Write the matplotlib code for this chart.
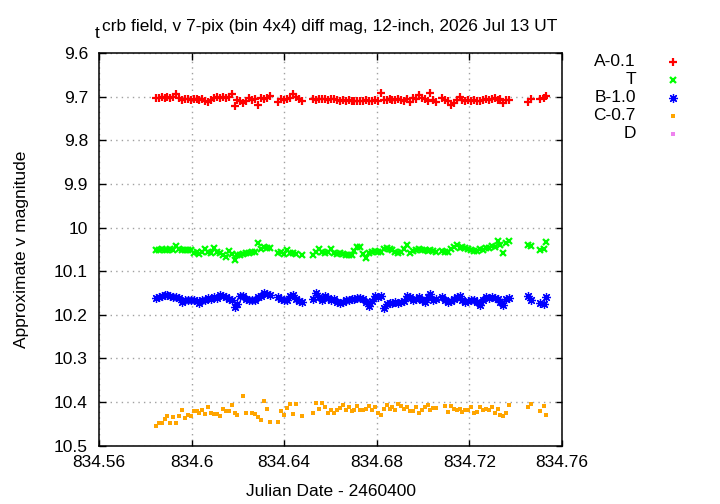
import numpy as np
import matplotlib
matplotlib.use('Agg')
import matplotlib.pyplot as plt
from matplotlib.lines import Line2D
from matplotlib.ticker import FixedLocator, FormatStrFormatter

plt.rcParams['font.family'] = ['Liberation Sans', 'DejaVu Sans']

nan = np.nan

# JD - 2460400
jd = [834.5845, 834.5858, 834.5870, 834.5883, 834.5895, 834.5908, 834.5921, 834.5933,
      834.5946, 834.5959, 834.5971, 834.5984, 834.5996, 834.6009, 834.6022, 834.6034,
      834.6047, 834.6060, 834.6072, 834.6085, 834.6097, 834.6110, 834.6123, 834.6135,
      834.6148, 834.6161, 834.6173, 834.6186, 834.6198, 834.6211, 834.6224, 834.6236,
      834.6249, 834.6261, 834.6274, 834.6287, 834.6299, 834.6312, 834.6325, 834.6337,
      834.6350, 834.6362, 834.6375, 834.6388, 834.6400, 834.6413, 834.6426, 834.6438,
      834.6451, 834.6463, 834.6476, 834.6489, 834.6501, 834.6514, 834.6526, 834.6539,
      834.6552, 834.6564, 834.6577, 834.6590, 834.6602, 834.6615, 834.6627, 834.6640,
      834.6653, 834.6665, 834.6678, 834.6691, 834.6703, 834.6716, 834.6728, 834.6741,
      834.6754, 834.6766, 834.6779, 834.6792, 834.6804, 834.6817, 834.6829, 834.6842,
      834.6855, 834.6867, 834.6880, 834.6892, 834.6905, 834.6918, 834.6930, 834.6943,
      834.6956, 834.6968, 834.6981, 834.6993, 834.7006, 834.7019, 834.7031, 834.7044,
      834.7057, 834.7069, 834.7082, 834.7094, 834.7107, 834.7120, 834.7132, 834.7145,
      834.7158, 834.7170, 834.7183, 834.7195, 834.7208, 834.7221, 834.7233, 834.7246,
      834.7258, 834.7271, 834.7284, 834.7296, 834.7309, 834.7322, 834.7334, 834.7347,
      834.7359, 834.7372,
      834.7455, 834.7467, 834.7506, 834.7520, 834.7532]

# A-0.1
mag_a = [9.702, 9.703, 9.701, 9.703, 9.700, 9.704, 9.701, 9.693,
         9.704, 9.708, 9.706, 9.705, 9.707, 9.706, 9.705, 9.707,
         9.706, 9.711, 9.712, 9.707, 9.703, 9.700, 9.702, 9.700,
         9.703, 9.701, 9.695, 9.721, 9.707, 9.711, 9.714, 9.709,
         9.704, 9.708, 9.706, 9.720, 9.704, 9.706, 9.703, 9.699,
         nan, nan, 9.712, 9.706, 9.708, 9.706, 9.702, 9.695,
         9.701, 9.705, 9.710, nan, nan, nan, 9.705, 9.707,
         9.706, 9.705, 9.706, 9.707, 9.705, 9.706, 9.708, 9.709,
         9.707, 9.710, 9.708, 9.710, 9.709, 9.711, 9.709, 9.710,
         9.708, 9.709, 9.711, 9.708, 9.710, 9.692, 9.707, 9.708,
         9.706, 9.708, 9.707, 9.706, 9.708, 9.709, 9.706, 9.713,
         9.704, 9.706, 9.696, 9.702, 9.705, 9.710, 9.692, 9.707,
         9.712, nan, 9.704, 9.708, 9.710, 9.718, 9.714, 9.708,
         9.700, 9.707, 9.710, 9.708, 9.711, 9.707, 9.709, 9.711,
         9.707, 9.705, 9.708, 9.706, 9.704, 9.708, 9.705, 9.714,
         9.708, 9.707,
         9.712, 9.705, 9.705, 9.703, 9.698]

# T
mag_t = [10.051, 10.052, 10.050, 10.051, 10.052, 10.050, 10.051, 10.043,
         10.050, 10.051, 10.052, 10.051, 10.052, 10.058, 10.055, 10.060,
         10.056, 10.049, 10.057, 10.059, 10.048, 10.055, 10.058, 10.062,
         10.068, 10.053, 10.060, 10.074, 10.064, 10.062, 10.060, 10.059,
         10.058, 10.056, 10.055, 10.036, 10.049, 10.044, 10.046, 10.046,
         nan, nan, 10.058, 10.055, 10.060, 10.052, 10.058, 10.059,
         10.060, nan, 10.064, nan, nan, nan, 10.062, 10.055,
         10.049, 10.056, 10.059, 10.057, 10.050, 10.058, 10.060, 10.058,
         10.061, 10.062, 10.064, 10.062, 10.053, 10.045, 10.045, 10.061,
         10.070, 10.059, 10.055, 10.053, 10.056, 10.055, 10.050, 10.046,
         10.050, 10.052, 10.055, 10.059, 10.057, 10.050, 10.039, 10.059,
         10.054, 10.051, 10.049, 10.052, 10.051, 10.053, 10.052, 10.053,
         10.055, nan, 10.054, 10.056, 10.057, 10.050, 10.044, 10.041,
         10.046, 10.045, 10.048, 10.049, 10.052, 10.054, 10.053, 10.050,
         10.052, 10.048, 10.046, 10.043, 10.045, 10.030, 10.040, 10.059,
         10.035, 10.030,
         10.041, 10.042, 10.051, 10.049, 10.033]

# B-1.0
mag_b = [10.162, 10.160, 10.158, 10.155, 10.154, 10.157, 10.159, 10.160,
         10.162, 10.171, 10.166, 10.165, 10.167, 10.166, 10.168, 10.173,
         10.167, 10.165, 10.161, 10.163, 10.160, 10.162, 10.154, 10.158,
         10.160, 10.164, 10.166, 10.183, 10.175, 10.156, 10.158, 10.163,
         10.166, 10.165, 10.167, 10.160, 10.157, 10.151, 10.153, 10.154,
         nan, nan, 10.160, 10.163, 10.166, 10.167, 10.158, 10.154,
         10.164, 10.169, 10.171, nan, nan, nan, 10.164, 10.151,
         10.160, 10.167, 10.156, 10.162, 10.165, 10.164, 10.170, 10.174,
         10.170, 10.167, 10.165, 10.164, 10.163, 10.162, 10.161, 10.164,
         10.171, 10.179, 10.168, 10.158, 10.160, 10.156, 10.184, 10.176,
         10.174, 10.172, 10.171, 10.173, 10.171, 10.168, 10.156, 10.160,
         10.167, 10.164, 10.160, 10.166, 10.171, 10.160, 10.152, 10.167,
         10.164, nan, 10.160, 10.166, 10.171, 10.168, 10.164, 10.160,
         10.156, 10.165, 10.171, 10.168, 10.166, 10.166, 10.170, 10.177,
         10.165, 10.160, 10.162, 10.160, 10.162, 10.164, 10.170, 10.177,
         10.163, 10.161,
         10.158, 10.166, 10.174, 10.175, 10.160]

# C-0.7
mag_c = [10.454, 10.448, 10.447, 10.439, 10.433, 10.447, 10.434, 10.448,
         10.433, 10.419, 10.437, 10.430, 10.431, 10.420, 10.420, 10.425,
         10.418, 10.428, 10.411, 10.424, 10.427, 10.428, 10.433, 10.415,
         10.420, 10.421, 10.406, 10.425, 10.430, nan, 10.387, 10.425,
         nan, 10.426, 10.428, 10.435, 10.442, 10.398, 10.417, 10.445,
         nan, nan, 10.446, 10.421, 10.429, 10.414, 10.405, 10.428,
         10.404, nan, 10.431, nan, nan, nan, 10.425, 10.403,
         10.415, 10.403, 10.412, 10.425, 10.418, 10.425, 10.418, 10.414,
         10.407, 10.419, 10.412, 10.420, 10.418, 10.410, 10.418, 10.419,
         10.416, 10.408, 10.418, 10.411, 10.424, 10.429, 10.416, 10.406,
         10.416, 10.411, 10.419, 10.404, 10.410, 10.416, 10.411, 10.421,
         10.421, 10.411, 10.425, 10.419, 10.411, 10.407, 10.419, 10.414,
         10.414, nan, nan, 10.408, 10.422, 10.408, 10.415, 10.418,
         10.416, 10.422, 10.419, 10.418, 10.412, 10.424, 10.423, 10.411,
         10.419, 10.416, 10.419, 10.411, 10.425, 10.415, 10.430, 10.433,
         10.424, 10.406,
         10.412, 10.405, 10.421, 10.410, 10.429]

# D (no points inside the plotted range)
jd_d = []
mag_d = []

labels = ['A-0.1', 'T', 'B-1.0', 'C-0.7', 'D']
colors = ['#ff0000', '#00ff00', '#0000ff', '#ffa500', '#ee82ee']
styles = [dict(marker='+', ms=6, mew=1.6),
          dict(marker='x', ms=5, mew=1.6),
          dict(marker=(8, 2, 0), ms=6.5, mew=0.9),
          dict(marker='s', ms=2.4, mew=0),
          dict(marker='s', ms=2.4, mew=0)]

fig = plt.figure(figsize=(7.2, 5.04), dpi=100)
ax = fig.add_axes([0.1375, 0.1157, 0.6431, 0.7791])

series = [(jd, mag_a), (jd, mag_t), (jd, mag_b), (jd, mag_c), (jd_d, mag_d)]
for (x, y), c, st in zip(series, colors, styles):
    ax.plot(x, y, linestyle='none', color=c, **st)

ax.set_xlim(834.56, 834.76)
ax.set_ylim(10.5, 9.6)
ax.xaxis.set_major_locator(FixedLocator([834.56, 834.60, 834.64, 834.68, 834.72, 834.76]))
ax.yaxis.set_major_locator(FixedLocator([9.6, 9.7, 9.8, 9.9, 10.0, 10.1, 10.2, 10.3, 10.4, 10.5]))
ax.xaxis.set_major_formatter(FormatStrFormatter('%g'))
ax.yaxis.set_major_formatter(FormatStrFormatter('%g'))
ax.tick_params(direction='in', length=6.5 * 0.72, width=1, top=True, right=True,
               labelsize=12.5)
ax.tick_params(axis='x', pad=7)
ax.tick_params(axis='y', pad=8)
ax.grid(True, color='#a0a0a0', linestyle=(0, (1, 3)), linewidth=1)
for sp in ax.spines.values():
    sp.set_linewidth(1.1)

ax.set_xlabel('Julian Date - 2460400', fontsize=12.5, labelpad=10)
ax.set_ylabel('Approximate v magnitude', fontsize=12.5, labelpad=18)

# title: gnuplot-style lowered "t"
fig.text(95 / 720, 1 - 33 / 504, 't', fontsize=12.5, va='center', ha='left')
fig.text(102 / 720, 1 - 27 / 504, 'crb field, v 7-pix (bin 4x4) diff mag, 12-inch, 2026 Jul 13 UT',
         fontsize=12.5, va='center', ha='left')

# key on the right, text right-aligned like gnuplot
for k, (lab, c, st) in enumerate(zip(labels, colors, styles)):
    yy = 1 - (62 + 18 * k) / 504
    fig.text(636 / 720, yy, lab, fontsize=12.5, ha='right', va='center')
    fig.add_artist(Line2D([673 / 720], [yy], transform=fig.transFigure,
                          linestyle='none', color=c, **st))

fig.savefig('out.png', dpi=100)
